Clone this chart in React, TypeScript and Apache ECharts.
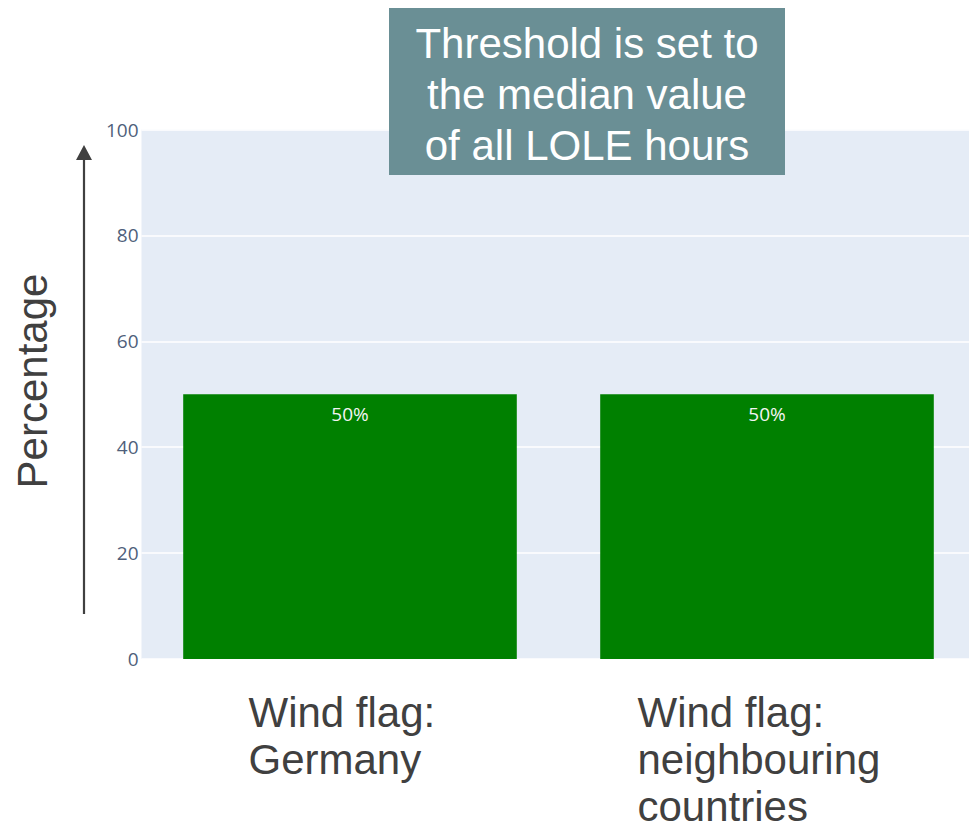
import React, { useEffect, useRef } from "react";
import * as echarts from "echarts";

const categories = ["Wind flag: Germany", "Wind flag: neighbouring countries"];
const categoryLabels = [
  ["Wind flag:", "Germany"],
  ["Wind flag:", "neighbouring", "countries"],
];
const percentages = [50, 50];
const yTicks = [0, 20, 40, 60, 80, 100];
const yTitle = "Percentage";
const boxLines = ["Threshold is set to", "the median value", "of all LOLE hours"];

const labelOffsets = [-101.5, -129.5];
const FONT = "'Liberation Sans', Arial, sans-serif";

export default function App() {
  const ref = useRef<HTMLDivElement>(null);
  useEffect(() => {
    if (!ref.current) return;
    const chart = echarts.init(ref.current, undefined, { renderer: "svg" });
    chart.setOption({
      animation: false,
      backgroundColor: "#ffffff",
      grid: {
        left: 141.5,
        width: 834,
        top: 129.5,
        bottom: 171,
        outerBoundsMode: "none",
        containLabel: false,
        backgroundColor: "#E5ECF6",
        show: true,
        borderWidth: 0,
      },
      xAxis: {
        type: "category",
        data: categories,
        axisLine: { show: false },
        axisTick: { show: false },
        axisLabel: { show: false },
        splitLine: { show: false },
      },
      yAxis: {
        type: "value",
        min: yTicks[0],
        max: yTicks[yTicks.length - 1],
        interval: yTicks[1] - yTicks[0],
        axisLine: { show: false },
        axisTick: { show: false },
        axisLabel: { color: "#4f5f7b", fontSize: 19, fontFamily: "'Open Sans', sans-serif", margin: 3 },
        splitLine: { lineStyle: { color: "#ffffff", width: 1.5 } },
      },
      series: [
        {
          type: "bar",
          data: percentages,
          barCategoryGap: "20%",
          itemStyle: { color: "#008000" },
          label: {
            show: true,
            position: "insideTop",
            distance: 10,
            formatter: (p: any) => `${p.value}%`,
            color: "#f4f4f4",
            fontSize: 19,
            fontFamily: "'Open Sans', sans-serif",
          },
        },
      ],
    });

    const graphics: any[] = [];
    categoryLabels.forEach((lines, i) => {
      const cx = chart.convertToPixel({ xAxisIndex: 0 }, categories[i]) as number;
      graphics.push({
        type: "text",
        x: cx + labelOffsets[i],
        y: 689,
        style: {
          text: lines.join("\n"),
          font: `42px ${FONT}`,
          lineHeight: 47,
          fill: "#404040",
          align: "left",
          verticalAlign: "top",
        },
      });
    });
    graphics.push(
      {
        type: "text",
        x: 32,
        y: 381,
        rotation: Math.PI / 2,
        style: { text: yTitle, font: `42px ${FONT}`, fill: "#404040", align: "center", verticalAlign: "middle" },
      },
      { type: "line", shape: { x1: 84, y1: 614, x2: 84, y2: 158 }, style: { stroke: "#404040", lineWidth: 2.2 } },
      { type: "polygon", shape: { points: [[76, 160], [92, 160], [84, 145]] }, style: { fill: "#404040" } },
      { type: "rect", shape: { x: 389, y: 8, width: 396, height: 167 }, style: { fill: "#6A8F95" } },
      {
        type: "text",
        x: 587,
        y: 94,
        style: {
          text: boxLines.join("\n"),
          font: `42px ${FONT}`,
          lineHeight: 51,
          fill: "#ffffff",
          align: "center",
          verticalAlign: "middle",
        },
      }
    );
    chart.setOption({ graphic: graphics });
    return () => chart.dispose();
  }, []);
  return <div ref={ref} style={{ position: "absolute", left: 0, top: 0, width: 969, height: 830 }} />;
}
